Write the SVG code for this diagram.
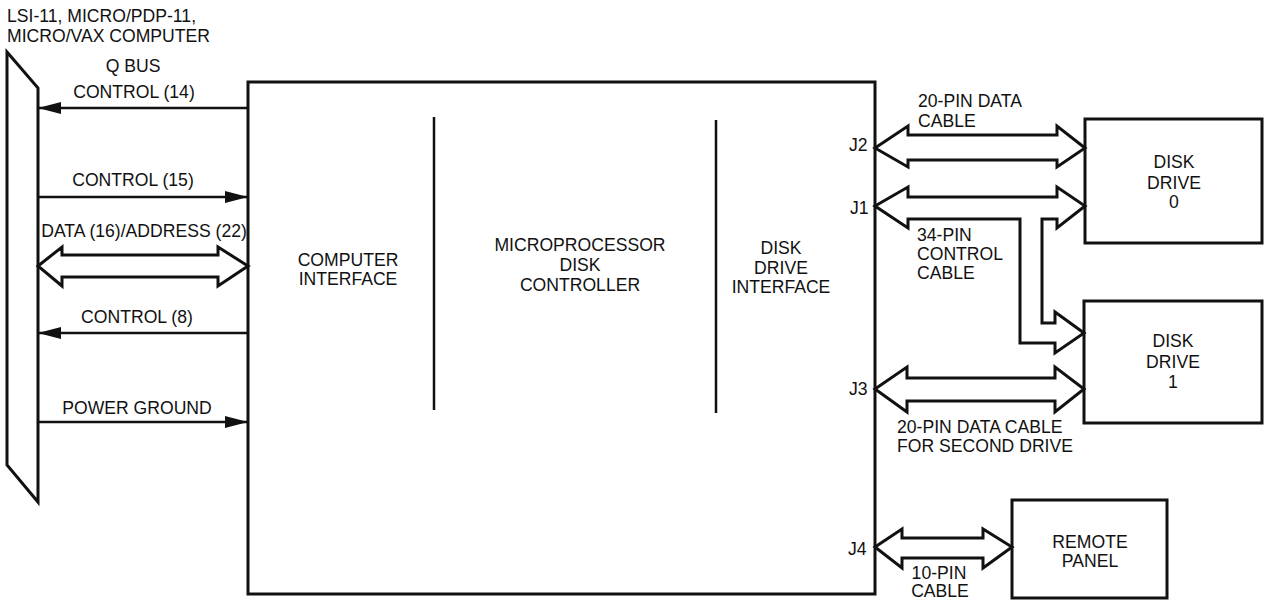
<svg xmlns="http://www.w3.org/2000/svg" width="1265" height="601" viewBox="0 0 1265 601">
<defs>
<style>
text{font-family:"Liberation Sans",Arial,sans-serif;font-size:17.6px;fill:#111}
.m{text-anchor:middle}
.box{fill:#fff;stroke:#111;stroke-width:3}
.ln{stroke:#111;stroke-width:2.5;fill:none}
.dbl{fill:#fff;stroke:#111;stroke-width:3;stroke-linejoin:miter}
</style>
<marker id="ah" markerUnits="userSpaceOnUse" markerWidth="24" markerHeight="14" refX="23" refY="7" orient="auto">
<path d="M0,1 L23,7 L0,13 Z" fill="#111"/>
</marker>
</defs>
<rect width="1265" height="601" fill="#fff"/>

<g id="qbus">
<polygon points="7,52 38,88 38,502 7,465" fill="#fff" stroke="#111" stroke-width="3" stroke-linejoin="miter"/>
<text x="7" y="22">LSI-11, MICRO/PDP-11,</text>
<text x="7" y="42">MICRO/VAX COMPUTER</text>
<text class="m" x="133" y="72">Q BUS</text>
</g>

<g id="controller">
<rect class="box" x="248" y="82" width="627" height="512"/>
<line class="ln" x1="434" y1="117" x2="434" y2="410"/>
<line class="ln" x1="716" y1="120" x2="716" y2="413"/>
<text class="m" x="348" y="266">COMPUTER</text>
<text class="m" x="348" y="285">INTERFACE</text>
<text class="m" x="580" y="251">MICROPROCESSOR</text>
<text class="m" x="580" y="271">DISK</text>
<text class="m" x="580" y="291">CONTROLLER</text>
<text class="m" x="781" y="254">DISK</text>
<text class="m" x="781" y="274">DRIVE</text>
<text class="m" x="781" y="293">INTERFACE</text>
<text x="849" y="151">J2</text>
<text x="850" y="214">J1</text>
<text x="849" y="395">J3</text>
<text x="848" y="555">J4</text>
</g>

<g id="drive0">
<rect class="box" x="1085" y="119" width="177" height="124"/>
<text class="m" x="1174" y="168">DISK</text>
<text class="m" x="1174" y="189">DRIVE</text>
<text class="m" x="1174" y="208">0</text>
</g>

<g id="drive1">
<rect class="box" x="1084" y="301" width="178" height="122"/>
<text class="m" x="1173" y="347">DISK</text>
<text class="m" x="1173" y="368">DRIVE</text>
<text class="m" x="1173" y="388">1</text>
</g>

<g id="remote">
<rect class="box" x="1012" y="500" width="155" height="98"/>
<text class="m" x="1090" y="548">REMOTE</text>
<text class="m" x="1090" y="567">PANEL</text>
</g>

<g id="connectors">
<line class="ln" x1="248" y1="108" x2="38" y2="108" marker-end="url(#ah)"/>
<text class="m" x="134" y="98">CONTROL (14)</text>
<line class="ln" x1="38" y1="197" x2="248" y2="197" marker-end="url(#ah)"/>
<text class="m" x="133" y="186">CONTROL (15)</text>
<path class="dbl" d="M38,266 L62,247 L62,255 L218,255 L218,247 L248,266 L218,286 L218,277 L62,277 L62,286 Z"/>
<text class="m" x="144" y="237">DATA (16)/ADDRESS (22)</text>
<line class="ln" x1="248" y1="333" x2="38" y2="333" marker-end="url(#ah)"/>
<text class="m" x="137" y="323">CONTROL (8)</text>
<line class="ln" x1="38" y1="422" x2="248" y2="422" marker-end="url(#ah)"/>
<text class="m" x="137" y="414">POWER GROUND</text>

<path class="dbl" d="M875,148 L908,126 L908,135 L1057,135 L1057,126 L1085,148 L1057,167 L1057,160 L908,160 L908,167 Z"/>
<text x="918" y="107">20-PIN DATA</text>
<text x="918" y="127">CABLE</text>

<path class="dbl" d="M875,206 L908,187 L908,197 L1057,197 L1057,187 L1085,206 L1057,228 L1057,219 L1042,219 L1042,323 L1055,323 L1055,312 L1084,333 L1055,353 L1055,343 L1020,343 L1020,219 L908,219 L908,228 Z"/>
<text x="917" y="241">34-PIN</text>
<text x="917" y="260">CONTROL</text>
<text x="917" y="279">CABLE</text>

<path class="dbl" d="M875,389 L907,367 L907,378 L1055,378 L1055,367 L1084,389 L1055,412 L1055,401 L907,401 L907,412 Z"/>
<text x="897" y="433">20-PIN DATA CABLE</text>
<text x="897" y="452">FOR SECOND DRIVE</text>

<path class="dbl" d="M875,547 L902,529 L902,538 L983,538 L983,529 L1012,547 L983,568 L983,558 L902,558 L902,568 Z"/>
<text class="m" x="939" y="579">10-PIN</text>
<text class="m" x="940" y="597">CABLE</text>
</g>
</svg>
